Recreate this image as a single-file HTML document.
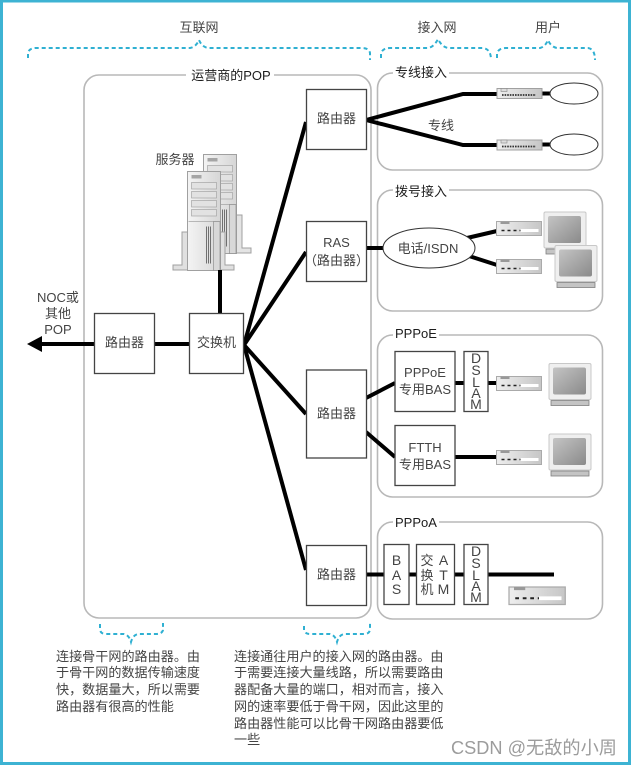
<!DOCTYPE html>
<html><head><meta charset="utf-8">
<style>
html,body{margin:0;padding:0;background:#fff}
svg{display:block;filter:blur(.35px)}
text{font-family:"Liberation Sans","Noto Sans CJK SC",sans-serif;fill:#444;font-size:13px}
.m{text-anchor:middle}
.d{fill:#1c1c1c;font-size:13px}
.n{font-size:13.1px}
.v{font-size:14px}
.box{fill:#fff;stroke:#444;stroke-width:1.3}
.grp{fill:#fff;stroke:#b8b8b8;stroke-width:1.6}
.l{stroke:#000;fill:none;stroke-linejoin:miter}
.b{fill:none;stroke:#2fb0d2;stroke-width:2;stroke-dasharray:4 3}
.mask{fill:#fff;stroke:none}
</style></head><body>
<svg width="631" height="765" viewBox="0 0 631 765" xmlns="http://www.w3.org/2000/svg">
<defs>
<linearGradient id="g1" x1="0" x2="1" y1="0" y2="0"><stop offset="0" stop-color="#eeeeee"/><stop offset="1" stop-color="#c6c6c6"/></linearGradient>
<linearGradient id="g2" x1="0" x2="1" y1="0" y2="1"><stop offset="0" stop-color="#c4c4c4"/><stop offset="1" stop-color="#8a8a8a"/></linearGradient>
<linearGradient id="g3" x1="0" x2="1" y1="0" y2="0"><stop offset="0" stop-color="#f4f4f4"/><stop offset="1" stop-color="#d6d6d6"/></linearGradient>
<g id="modem">
<rect x="0" y="0" width="45" height="14" fill="url(#g1)" stroke="#aaa"/>
<rect x="4" y="0" width="9" height="2.5" fill="#999"/>
<rect x="24" y="7.500" width="18" height="3" fill="#fff"/>
<path d="M5 9h19" stroke="#222" stroke-width="1.6" stroke-dasharray="3 3"/>
</g>
<g id="lease">
<rect x="0" y="0" width="45" height="10" fill="url(#g1)" stroke="#a0a0a0"/>
<rect x="4" y="0" width="6" height="3" fill="#ddd" stroke="#888" stroke-width=".6"/>
<path d="M5 6.500h34" stroke="#333" stroke-width="1.8" stroke-dasharray="1.6 1"/>
</g>
<g id="mon">
<rect x="0" y="0" width="42" height="36" rx="1.500" fill="#efefef" stroke="#c8c8c8"/>
<rect x="4" y="4" width="33" height="27" rx="2" fill="url(#g2)"/>
<rect x="2" y="37" width="38" height="5" fill="#c4c4c4" stroke="#808080" stroke-width=".8"/>
</g>
<g id="srv">
<rect x="0" y="0" width="33" height="99" fill="url(#g3)" stroke="#a0a0a0"/>
<rect x="4" y="3.500" width="10" height="3.500" fill="#a5a5a5"/>
<rect x="4" y="11" width="25" height="6.500" fill="#e2e2e2" stroke="#a5a5a5" stroke-width=".7"/>
<rect x="4" y="20" width="25" height="6.500" fill="#e2e2e2" stroke="#a5a5a5" stroke-width=".7"/>
<rect x="4" y="29" width="25" height="6.500" fill="#e2e2e2" stroke="#a5a5a5" stroke-width=".7"/>
<rect x="4" y="38" width="25" height="6.500" fill="#e2e2e2" stroke="#a5a5a5" stroke-width=".7"/>
<path d="M1 50h31" stroke="#a5a5a5" stroke-width=".8"/>
<rect x="26" y="50" width="6.500" height="49" fill="#d8d8d8" stroke="#909090" stroke-width=".7"/>
<path d="M19 55v37M21 55v37M23 55v37" stroke="#707070" stroke-width="1"/>
</g>
</defs>

<rect width="631" height="765" fill="#fff"/>
<rect x="1.500" y="1" width="628" height="762.500" fill="none" stroke="#3db3d3" stroke-width="3"/>

<!-- top labels and braces -->
<text x="199" y="32" class="m">互联网</text>
<text x="437" y="32" class="m">接入网</text>
<text x="548" y="32" class="m">用户</text>
<path class="b" d="M28 58V53Q29 48 36 48H190Q196 47 199 40Q202 47 208 48H362Q369 48 370 53V60"/>
<path class="b" d="M381 58V54Q382 48 390 48H428Q434 47 438 39Q442 47 448 48H483Q491 49 491 60"/>
<path class="b" d="M497 58V54Q498 48 506 48H540Q545 47 548 40Q551 47 557 48H588Q595 49 595 60"/>

<!-- POP -->
<rect x="84" y="75" width="287" height="543" rx="15" class="grp"/>
<rect x="186" y="68" width="88" height="14" class="mask"/>
<text x="231" y="80" class="m d">运营商的POP</text>

<!-- access groups -->
<rect x="377.500" y="73" width="225" height="97" rx="15" class="grp"/>
<rect x="393" y="66" width="56" height="14" class="mask"/>
<text x="421" y="77" class="m d">专线接入</text>
<rect x="377.500" y="190" width="225" height="121" rx="15" class="grp"/>
<rect x="393" y="183" width="56" height="14" class="mask"/>
<text x="421" y="196" class="m d">拨号接入</text>
<rect x="377.500" y="335" width="225" height="162" rx="15" class="grp"/>
<rect x="393" y="328" width="46" height="14" class="mask"/>
<text x="395" y="338" class="d">PPPoE</text>
<rect x="377.500" y="522" width="225" height="97" rx="15" class="grp"/>
<rect x="393" y="515" width="46" height="14" class="mask"/>
<text x="395" y="527" class="d">PPPoA</text>

<!-- server -->
<path d="M226 236v17h25v-5h-9v-33h-6v21z" fill="#e4e4e4" stroke="#a0a0a0"/>
<use href="#srv" x="203.500" y="154.500"/>
<path d="M182 232v33h-9v5h61v-5h-9v-33z" fill="#e0e0e0" stroke="#a0a0a0"/>
<use href="#srv" x="187.500" y="171.500"/>
<text x="175" y="164" class="m">服务器</text>

<!-- main lines -->
<g class="l">
<path d="M220 270V314" stroke-width="4"/>
<path d="M154 344H190" stroke-width="4"/>
<path d="M94 344H40" stroke-width="4"/>
<path d="M244 345L306 122" stroke-width="4"/>
<path d="M244 345L306 252" stroke-width="4"/>
<path d="M244 345L306 414" stroke-width="4"/>
<path d="M244 345L306 570" stroke-width="4"/>
<path d="M366 120L463 94H497" stroke-width="4"/>
<path d="M366 120L463 145H497" stroke-width="4"/>
<path d="M542 93.500H552M542 144.500H552" stroke-width="4"/>
<path d="M366 248H384" stroke-width="4"/>
<path d="M467 238L497 231M469 256L497 265" stroke-width="4"/>
<path d="M366 398L395 383M366 432L395 457" stroke-width="4"/>
<path d="M455 383H497M455 457H497" stroke-width="4"/>
<path d="M366 574.500H554" stroke-width="4"/>
</g>
<path d="M27 344L42 336V352Z" fill="#000"/>

<!-- boxes -->
<rect x="94.500" y="313.500" width="60" height="60" class="box"/>
<text x="124.500" y="347" class="m">路由器</text>
<rect x="189.500" y="313.500" width="54" height="60" class="box"/>
<text x="216.500" y="347" class="m">交换机</text>
<rect x="306.500" y="89.500" width="60" height="60" class="box"/>
<text x="336.500" y="123" class="m">路由器</text>
<rect x="306.500" y="221.500" width="60" height="60" class="box"/>
<text x="336.500" y="247" class="m">RAS</text>
<text x="336.500" y="265" class="m">（路由器）</text>
<rect x="306.500" y="370" width="60" height="88" class="box"/>
<text x="336.500" y="418" class="m">路由器</text>
<rect x="306.500" y="545.500" width="60" height="60" class="box"/>
<text x="336.500" y="579" class="m">路由器</text>

<text x="58" y="302" class="m">NOC或</text>
<text x="58" y="318" class="m">其他</text>
<text x="58" y="334" class="m">POP</text>

<!-- leased -->
<text x="441" y="130" class="m">专线</text>
<use href="#lease" x="497" y="88.500"/>
<use href="#lease" x="497" y="140"/>
<ellipse cx="574" cy="93.500" rx="24" ry="10.500" fill="#fff" stroke="#333" stroke-width="1"/>
<ellipse cx="574" cy="144.500" rx="24" ry="10.500" fill="#fff" stroke="#333" stroke-width="1"/>

<!-- dial -->
<ellipse cx="429" cy="248" rx="46" ry="20" fill="#fff" stroke="#333" stroke-width="1"/>
<text x="428" y="253" class="m">电话/ISDN</text>
<use href="#modem" x="496.500" y="221.500"/>
<use href="#modem" x="496.500" y="259.500"/>
<use href="#mon" x="544" y="212"/>
<use href="#mon" x="555" y="245.500"/>

<!-- PPPoE -->
<rect x="395" y="351.500" width="60" height="60" class="box"/>
<text x="425" y="377" class="m">PPPoE</text>
<text x="425" y="394" class="m">专用BAS</text>
<rect x="464" y="351.500" width="24" height="60" class="box"/>
<text x="476" y="363" class="m v">D</text>
<text x="476" y="375" class="m v">S</text>
<text x="476" y="387" class="m v">L</text>
<text x="476" y="398" class="m v">A</text>
<text x="476" y="409" class="m v">M</text>
<rect x="395" y="425.500" width="60" height="60" class="box"/>
<text x="425" y="452" class="m">FTTH</text>
<text x="425" y="469" class="m">专用BAS</text>
<use href="#modem" x="496.500" y="376.500"/>
<use href="#modem" x="496.500" y="450.500"/>
<use href="#mon" x="549" y="363.500"/>
<use href="#mon" x="549" y="434"/>

<!-- PPPoA -->
<rect x="384" y="544.500" width="25" height="60" class="box"/>
<text x="396.500" y="565" class="m v">B</text>
<text x="396.500" y="580" class="m v">A</text>
<text x="396.500" y="594" class="m v">S</text>
<rect x="416.500" y="544.500" width="38" height="60" class="box"/>
<text x="427" y="565" class="m">交</text>
<text x="427" y="580" class="m">换</text>
<text x="427" y="594" class="m">机</text>
<text x="443.500" y="565" class="m v">A</text>
<text x="443.500" y="580" class="m v">T</text>
<text x="443.500" y="594" class="m v">M</text>
<rect x="464" y="544.500" width="24" height="60" class="box"/>
<text x="476" y="556" class="m v">D</text>
<text x="476" y="568" class="m v">S</text>
<text x="476" y="580" class="m v">L</text>
<text x="476" y="591" class="m v">A</text>
<text x="476" y="602" class="m v">M</text>
<g transform="translate(509,587) scale(1.25,1.25)"><use href="#modem"/></g>

<!-- bottom braces -->
<path class="b" d="M100 624V630Q101 634 106 634H124Q129 635 131 642Q133 635 138 634H156Q162 634 163 630V623"/>
<path class="b" d="M304 626V630Q305 634 310 634H330Q335 635 337 642Q339 635 344 634H364Q369 634 370 630V623"/>

<!-- notes -->
<g>
<text x="56" y="661" class="n">连接骨干网的路由器。由</text>
<text x="56" y="677" class="n">于骨干网的数据传输速度</text>
<text x="56" y="694" class="n">快，数据量大，所以需要</text>
<text x="56" y="711" class="n">路由器有很高的性能</text>
<text x="234" y="661" class="n">连接通往用户的接入网的路由器。由</text>
<text x="234" y="677" class="n">于需要连接大量线路，所以需要路由</text>
<text x="234" y="694" class="n">器配备大量的端口，相对而言，接入</text>
<text x="234" y="711" class="n">网的速率要低于骨干网，因此这里的</text>
<text x="234" y="728" class="n">路由器性能可以比骨干网路由器要低</text>
<text x="234" y="744" class="n">一些</text>
</g>
<text x="451" y="754" style="font-size:18.2px;fill:#9c9c9c">CSDN @无敌的小周</text>
</svg>
</body></html>
